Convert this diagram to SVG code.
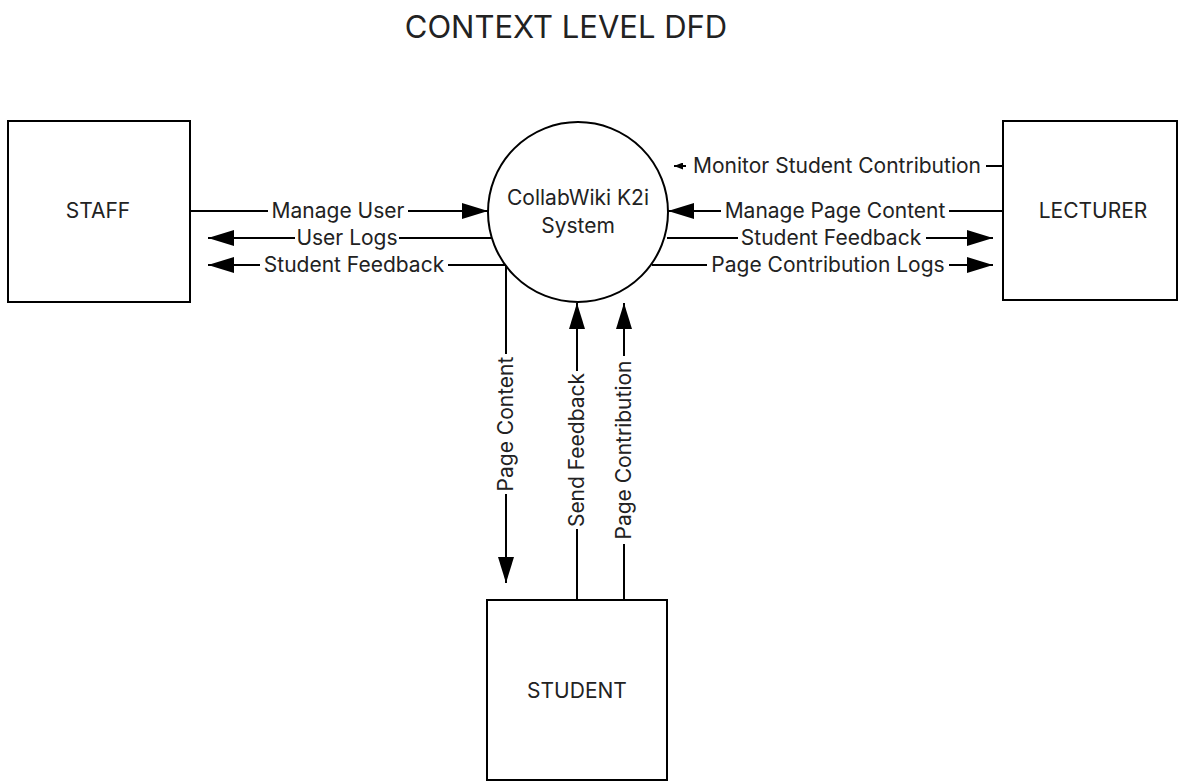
<svg xmlns="http://www.w3.org/2000/svg" width="1185" height="782" viewBox="0 0 1185 782">
<style>
.box{fill:#fff;stroke:#000;stroke-width:2}
.ln{stroke:#000;stroke-width:2;fill:none}
.t{font-family:Inter,"Open Sans",sans-serif;font-size:21px;fill:#222;text-anchor:middle;dominant-baseline:central}
.bg{fill:#fff}
.title{font-family:Inter,"Open Sans",sans-serif;font-size:31px;fill:#222;text-anchor:middle}
</style>
<defs>
<marker id="ah" viewBox="0 0 26 16" refX="26" refY="8" markerWidth="26" markerHeight="16" markerUnits="userSpaceOnUse" orient="auto">
<path d="M0,0 L26,8 L0,16 Z" fill="#000"/>
</marker>
<marker id="as" viewBox="0 0 9 7" refX="9" refY="3.5" markerWidth="9" markerHeight="7" markerUnits="userSpaceOnUse" orient="auto">
<path d="M0,0 L9,3.5 L0,7 Z" fill="#000"/>
</marker>
</defs>
<rect width="1185" height="782" fill="#fff"/>
<text class="title" x="566" y="38">CONTEXT LEVEL DFD</text>
<g id="connectors">
<line class="ln" x1="190" y1="211" x2="488" y2="211" marker-end="url(#ah)"/>
<line class="ln" x1="491" y1="238" x2="208" y2="238" marker-end="url(#ah)"/>
<line class="ln" x1="505" y1="265" x2="208" y2="265" marker-end="url(#ah)"/>
<line class="ln" x1="1003" y1="166" x2="674" y2="166" marker-end="url(#as)"/>
<line class="ln" x1="1003" y1="211" x2="668" y2="211" marker-end="url(#ah)"/>
<line class="ln" x1="667" y1="238" x2="993" y2="238" marker-end="url(#ah)"/>
<line class="ln" x1="652" y1="265" x2="993" y2="265" marker-end="url(#ah)"/>
<line class="ln" x1="506" y1="265" x2="506" y2="583" marker-end="url(#ah)"/>
<line class="ln" x1="577" y1="600" x2="577" y2="303" marker-end="url(#ah)"/>
<line class="ln" x1="624" y1="600" x2="624" y2="303" marker-end="url(#ah)"/>
<rect class="bg" x="268" y="201" width="140" height="20"/>
<text class="t" x="338" y="210">Manage User</text>
<rect class="bg" x="295" y="228" width="104" height="20"/>
<text class="t" x="347" y="237">User Logs</text>
<rect class="bg" x="260" y="255" width="188" height="20"/>
<text class="t" x="354" y="264">Student Feedback</text>
<rect class="bg" x="686" y="156" width="300" height="20"/>
<text class="t" x="837" y="165">Monitor Student Contribution</text>
<rect class="bg" x="721" y="201" width="228" height="20"/>
<text class="t" x="835" y="210">Manage Page Content</text>
<rect class="bg" x="738" y="228" width="188" height="20"/>
<text class="t" x="831" y="237">Student Feedback</text>
<rect class="bg" x="707" y="255" width="242" height="20"/>
<text class="t" x="828" y="264">Page Contribution Logs</text>
<g transform="translate(506,424) rotate(-90)">
<rect class="bg" x="-70" y="-10" width="140" height="20"/>
<text class="t" x="0" y="-1">Page Content</text>
</g>
<g transform="translate(577,450) rotate(-90)">
<rect class="bg" x="-79" y="-10" width="158" height="20"/>
<text class="t" x="0" y="-1">Send Feedback</text>
</g>
<g transform="translate(624,450) rotate(-90)">
<rect class="bg" x="-94" y="-10" width="188" height="20"/>
<text class="t" x="0" y="-1">Page Contribution</text>
</g>
</g>
<g id="staff">
<rect class="box" x="8" y="121" width="182" height="181"/>
<text class="t" x="98" y="210">STAFF</text>
</g>
<g id="lecturer">
<rect class="box" x="1003" y="121" width="174" height="179"/>
<text class="t" x="1093" y="210">LECTURER</text>
</g>
<g id="student">
<rect class="box" x="487" y="600" width="180" height="180"/>
<text class="t" x="577" y="690">STUDENT</text>
</g>
<g id="system">
<circle class="box" cx="578" cy="212" r="90"/>
<text class="t" x="578" y="197">CollabWiki K2i</text>
<text class="t" x="578" y="225">System</text>
</g>
</svg>
